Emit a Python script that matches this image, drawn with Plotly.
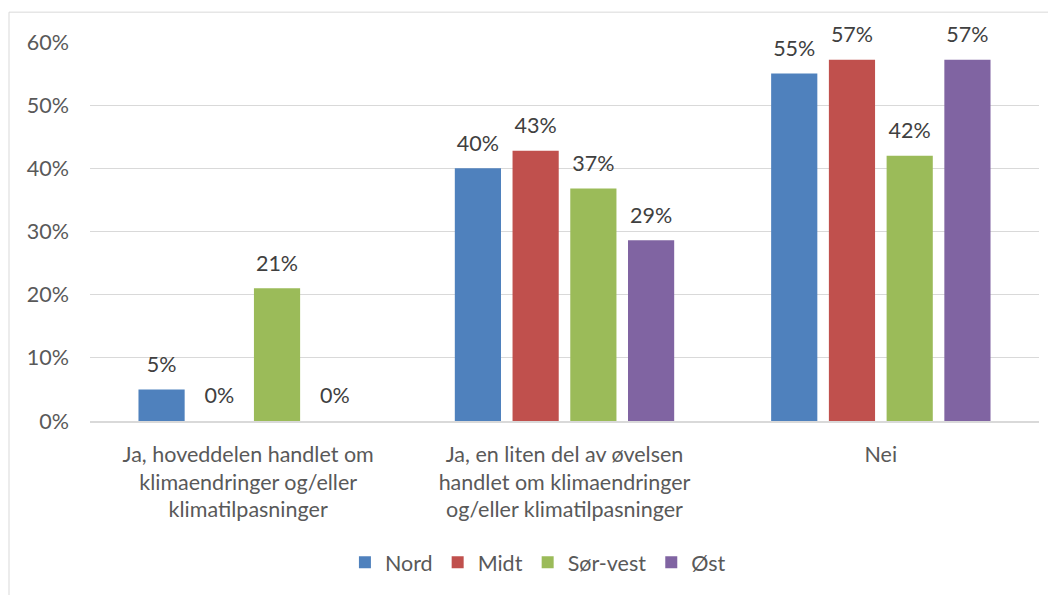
import plotly.graph_objects as go

categories = [
    "Ja, hoveddelen handlet om<br>klimaendringer og/eller<br>klimatilpasninger",
    "Ja, en liten del av øvelsen<br>handlet om klimaendringer<br>og/eller klimatilpasninger",
    "Nei",
]
series_names = ["Nord", "Midt", "Sør-vest", "Øst"]
nord = [0.05, 0.40, 0.55]
midt = [0.0, 0.428, 0.572]
sor_vest = [0.21, 0.368, 0.42]
ost = [0.0, 0.286, 0.572]
colors = ["#4F81BD", "#C0504D", "#9BBB59", "#8064A2"]
y_ticks = [0, 0.1, 0.2, 0.3, 0.4, 0.5, 0.6]

FONT = "Lato"
TXT = "#595959"
FS = 21.5

# page body has an 8px default margin; offsets account for it
L, T, PW, PH = 82, 34, 949, 381

fig = go.Figure()
for name, vals, col in zip(series_names, [nord, midt, sor_vest, ost], colors):
    fig.add_trace(go.Bar(
        x=categories, y=vals, name=name, marker_color=col,
        marker_line_width=0, offsetgroup=name,
    ))
for name, vals in zip(series_names, [nord, midt, sor_vest, ost]):
    fig.add_trace(go.Scatter(
        x=categories, y=vals, mode="markers+text", offsetgroup=name,
        text=[f"{round(v * 100)}%" for v in vals], textposition="top center",
        textfont=dict(family=FONT, size=FS, color="#404040"),
        marker=dict(size=18, opacity=0), showlegend=False, hoverinfo="skip",
        cliponaxis=False,
    ))

fig.update_layout(
    width=1048, height=587,
    margin=dict(l=L, r=1048 - L - PW, t=T, b=587 - T - PH),
    paper_bgcolor="white", plot_bgcolor="white",
    barmode="group", bargap=0.27, bargroupgap=0.2,
    scattermode="group", scattergap=0.27,
    font=dict(family=FONT, size=FS, color=TXT),
    legend=dict(orientation="h", x=0.472, xanchor="center", y=-0.373, yanchor="middle",
                font=dict(family=FONT, size=FS, color=TXT), itemwidth=30,
                traceorder="normal"),
    showlegend=True,
    shapes=[dict(type="rect", xref="paper", yref="paper",
                 x0=(9 - 90) / PW, x1=1.2, y0=-0.6, y1=(423 - 12) / PH,
                 line=dict(color="#D9D9D9", width=1), fillcolor="rgba(0,0,0,0)", layer="below")],
)
fig.update_yaxes(range=[0, 0.6], tickvals=y_ticks, tickformat=".0%",
                 showgrid=True, gridcolor="#D9D9D9", gridwidth=1,
                 zeroline=False, showline=False, ticks="",
                 ticklabelstandoff=20,
                 tickfont=dict(family=FONT, size=FS, color=TXT))
fig.update_xaxes(showline=True, linecolor="#D9D9D9", linewidth=1.5, ticks="",
                 ticklabelstandoff=13,
                 tickfont=dict(family=FONT, size=FS, color=TXT))

fig.write_html("out.html")
